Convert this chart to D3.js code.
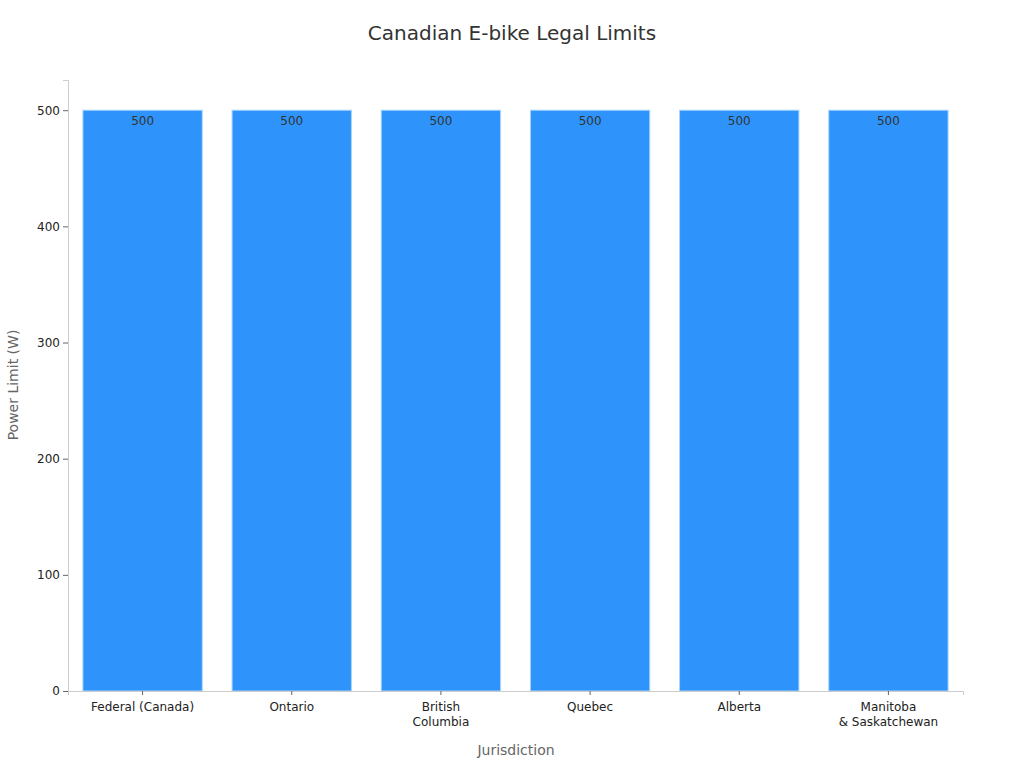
<!DOCTYPE html>
<html><head><meta charset="utf-8">
<script src="https://cdn.jsdelivr.net/npm/d3@7"></script>
<style>body{margin:0;background:#fff;font-family:"DejaVu Sans",sans-serif}</style>
</head><body><div class="work"></div>
<script>
var categories = ["Federal (Canada)", "Ontario", "British\nColumbia", "Quebec", "Alberta", "Manitoba\n& Saskatchewan"],
	values = [500, 500, 500, 500, 500, 500],
	yTicks = [0, 100, 200, 300, 400, 500];

var width = 1024, height = 768,
	m = {top: 80, right: 61, bottom: 77, left: 68};

var svg = d3.select(".work").append("svg")
	.attr("width", width).attr("height", height);

var x = d3.scaleBand().domain(categories)
	.range([m.left, width - m.right]).paddingInner(0.2).paddingOuter(0.1);
var y = d3.scaleLinear().domain([0, 526]).range([height - m.bottom, m.top]);

svg.append("text").attr("x", 512).attr("y", 40).attr("text-anchor", "middle")
	.attr("font-size", 20).attr("fill", "#333").text("Canadian E-bike Legal Limits");

svg.selectAll("rect.bar").data(values).enter().append("rect")
	.attr("x", (d, i) => x(categories[i]))
	.attr("width", x.bandwidth())
	.attr("y", d => y(d))
	.attr("height", d => y(0) - y(d))
	.attr("fill", "#2e93fa").attr("stroke", "#a8d4ff").attr("stroke-width", 1);

svg.selectAll("text.val").data(values).enter().append("text")
	.attr("x", (d, i) => x(categories[i]) + x.bandwidth() / 2)
	.attr("y", d => y(d) + 15)
	.attr("text-anchor", "middle").attr("font-size", 12).attr("fill", "#333")
	.text(d => d);

var ya = svg.append("g").attr("transform", "translate(" + m.left + ",0)")
	.call(d3.axisLeft(y).tickValues(yTicks).tickSize(5).tickPadding(3));
var xa = svg.append("g").attr("transform", "translate(0," + (height - m.bottom) + ")")
	.call(d3.axisBottom(x).tickSize(4).tickFormat(""));
[ya, xa].forEach(a => {
	a.select(".domain").attr("stroke", "#ccc");
	a.selectAll("line").attr("stroke", "#666");
	a.selectAll("text").attr("font-size", 12).attr("fill", "#222").attr("font-family", "DejaVu Sans");
});

categories.forEach(c => {
	var t = svg.append("text").attr("x", x(c) + x.bandwidth() / 2).attr("y", height - m.bottom + 20)
		.attr("text-anchor", "middle").attr("font-size", 12).attr("fill", "#222");
	c.split("\n").forEach((l, i) => t.append("tspan").attr("x", x(c) + x.bandwidth() / 2)
		.attr("dy", i ? 15 : 0).text(l));
});

svg.append("text").attr("x", 516).attr("y", 755).attr("text-anchor", "middle")
	.attr("font-size", 14).attr("fill", "#666").text("Jurisdiction");
svg.append("text").attr("transform", "translate(18,385) rotate(-90)").attr("text-anchor", "middle")
	.attr("font-size", 14).attr("fill", "#666").text("Power Limit (W)");
</script></body></html>
